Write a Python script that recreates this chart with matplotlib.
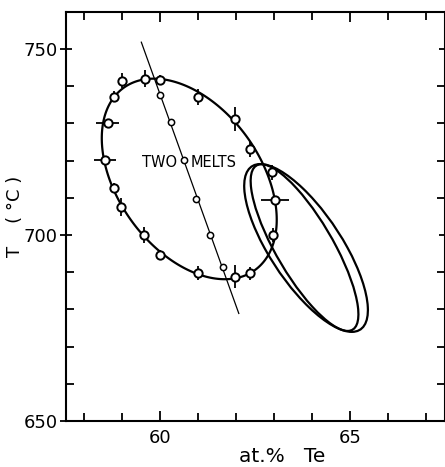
import numpy as np
import matplotlib
matplotlib.use("Agg")
import matplotlib.pyplot as plt
from matplotlib.patches import Ellipse
from matplotlib.ticker import MultipleLocator

# miscibility gap points: composition (at.% Te), temperature (C) and error bars
melt_x = [59.0, 59.59, 59.98, 58.78, 58.61, 58.54, 58.78, 58.96, 59.57, 59.98,
          60.98, 61.97, 62.37, 62.97, 63.03, 62.93, 62.37, 61.97, 60.98]
melt_T = [741.5, 742.0, 741.7, 737.1, 730.2, 720.2, 712.6, 707.5, 700.0, 694.6,
          689.7, 688.8, 689.7, 700.0, 709.4, 716.8, 723.0, 731.2, 737.1]
melt_Terr = [2.1, 2.2, 1.4, 1.5, 0.0, 0.0, 1.4, 2.5, 2.2, 1.3,
             1.9, 3.0, 1.7, 2.0, 0.0, 2.0, 2.0, 3.3, 2.1]
melt_xerr = [0.0, 0.0, 0.0, 0.0, 0.3, 0.29, 0.0, 0.0, 0.0, 0.0,
             0.0, 0.0, 0.0, 0.0, 0.37, 0.0, 0.0, 0.0, 0.0]

# mean compositions of the two melts (rectilinear diameter)
diam_x = [59.98, 60.29, 60.63, 60.94, 61.32, 61.64]
diam_T = [737.5, 730.3, 720.2, 709.7, 700.0, 691.5]
diam_Trange = [751.8, 678.9]

# calculated gaps: centre x, centre T, half-extent in x, half-extent in T, correlation
gap_outer = (63.84, 696.5, 1.63, 22.55, -0.74)
gap_inner = (63.80, 696.6, 1.42, 22.4, -0.80)


def boundary(cx, cy, sx, sy, rho, **kw):
    cov = np.array([[sx**2, rho * sx * sy], [rho * sx * sy, sy**2]])
    vals, vecs = np.linalg.eigh(cov)
    angle = np.degrees(np.arctan2(vecs[1, 1], vecs[0, 1]))
    return Ellipse((cx, cy), 2 * np.sqrt(vals[1]), 2 * np.sqrt(vals[0]),
                   angle=angle, fill=False, **kw)


def conic_fit(x, y):
    # least-squares conic through the measured points (scaled coordinates)
    x0, y0, sx, sy = np.mean(x), np.mean(y), np.std(x), np.std(y)
    u, v = (np.asarray(x) - x0) / sx, (np.asarray(y) - y0) / sy
    D = np.column_stack([u * u, u * v, v * v, u, v, np.ones_like(u)])
    c = np.linalg.svd(D)[2][-1]

    def F(X, Y):
        U, V = (X - x0) / sx, (Y - y0) / sy
        return c[0] * U * U + c[1] * U * V + c[2] * V * V + c[3] * U + c[4] * V + c[5]
    return F


plt.rcParams['font.family'] = 'DejaVu Sans'

fig = plt.figure(figsize=(4.45, 4.67), dpi=100)
ax = fig.add_axes([0.1472, 0.0985, 0.8526, 0.8765])

F = conic_fit(melt_x, melt_T)
gx, gy = np.meshgrid(np.linspace(57.5, 67.5, 600), np.linspace(650, 760, 600))
ax.contour(gx, gy, F(gx, gy), levels=[0], colors='black', linewidths=1.6, zorder=2)

for params in (gap_outer, gap_inner):
    ax.add_patch(boundary(*params, edgecolor='black', lw=1.6, zorder=2))

coef = np.polyfit(diam_T, diam_x, 1)
ax.plot(np.polyval(coef, diam_Trange), diam_Trange, color='black', lw=0.9, zorder=2)

ax.errorbar(melt_x, melt_T, yerr=melt_Terr, xerr=melt_xerr, fmt='o',
            ms=6, mfc='white', mec='black', mew=1.4, ecolor='black',
            elinewidth=1.3, capsize=0, zorder=3)
ax.plot(diam_x, diam_T, 'o', ms=4.5, mfc='white', mec='black', mew=1.1, zorder=3)

ax.text(60.45, 719.6, 'TWO', ha='right', va='center', fontsize=10.5)
ax.text(60.8, 719.6, 'MELTS', ha='left', va='center', fontsize=10.5)

ax.set_xlim(57.5, 67.5)
ax.set_ylim(650, 760)
ax.set_xticks([60, 65])
ax.xaxis.set_minor_locator(MultipleLocator(1))
ax.set_yticks([650, 700, 750])
ax.yaxis.set_minor_locator(MultipleLocator(10))

ax.tick_params(which='both', direction='in', top=True, right=True,
               width=1.3, labelsize=13)
ax.tick_params(which='major', length=7)
ax.tick_params(which='minor', length=6)
ax.tick_params(axis='y', which='major', direction='inout', length=9, pad=1)
ax.tick_params(axis='x', which='major', pad=6)
for s in ax.spines.values():
    s.set_linewidth(1.5)

ax.set_xlabel('at.%   Te', fontsize=14.5, x=0.57, labelpad=0)
ax.set_ylabel('T    ( °C )', fontsize=13)
ax.yaxis.set_label_coords(-0.11, 0.5)

fig.savefig('out.png', dpi=100)
